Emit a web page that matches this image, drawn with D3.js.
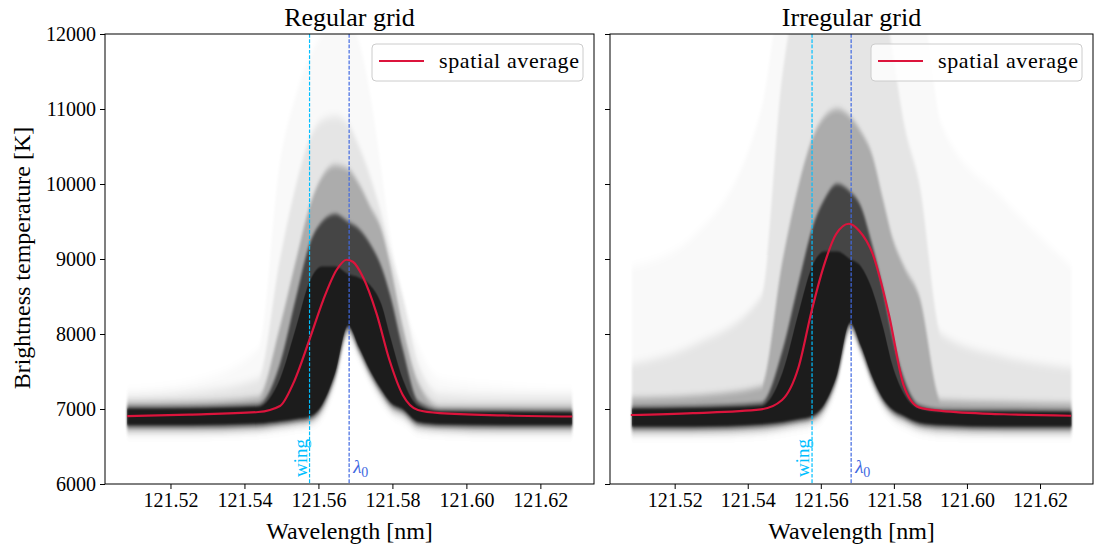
<!DOCTYPE html>
<html>
<head>
<meta charset="utf-8">
<script src="https://cdn.jsdelivr.net/npm/d3@7/dist/d3.min.js"></script>
<style>
  body { margin: 0; background: #fff; }
  svg text { font-family: "Liberation Serif", "Times New Roman", serif; fill: #000; }
</style>
</head>
<body>
<div id="chart"></div>
<script>
// wavelength nodes [nm] where the spread of all profiles was read
const bandWavelengths = [121.5083, 121.5250, 121.5437, 121.5496, 121.5540, 121.5576, 121.5610, 121.5645, 121.5680,
                         121.5710, 121.5740, 121.5770, 121.5795, 121.5828, 121.5870, 121.5930, 121.6100, 121.6286];

// regular grid: spread of the profiles [K] (faint envelope -> densest part)
const regEnvHi   = [7250, 7350, 7800, 10300, 11200, 11700, 12000, 12200, 12200, 11900, 11200, 10200, 9300, 8500, 7850, 7400, 7300, 7250];
const regEnvLo   = [6640, 6640, 6670, 6700, 6740, 6770, 6880, 7280, 7900, 7640, 7330, 7080, 6930, 6830, 6690, 6660, 6640, 6640];
const regOuterHi = [7170, 7220, 7400, 9000, 10000, 10600, 10850, 10900, 10800, 10500, 10100, 9600, 9100, 8500, 7600, 7200, 7170, 7170];
const regOuterLo = [6670, 6670, 6700, 6740, 6770, 6800, 6930, 7340, 7960, 7690, 7380, 7130, 6970, 6880, 6720, 6690, 6670, 6670];
const regMidHi   = [7090, 7100, 7160, 8100, 9000, 9700, 10100, 10250, 10200, 10000, 9700, 9400, 8900, 8100, 7350, 7040, 7040, 7040];
const regMidLo   = [6710, 6710, 6730, 6770, 6800, 6830, 6980, 7400, 8020, 7740, 7430, 7180, 7010, 6920, 6760, 6730, 6710, 6710];
const regCoreHi  = [7030, 7035, 7060, 7600, 8500, 9200, 9500, 9600, 9500, 9400, 9200, 8900, 8500, 7800, 7100, 6990, 6985, 6980];
const regCoreLo  = [6760, 6760, 6780, 6810, 6840, 6870, 7030, 7450, 8080, 7790, 7480, 7230, 7060, 6970, 6800, 6770, 6760, 6760];
const regDenseHi = [7000, 7005, 7030, 7400, 8100, 8700, 8900, 8900, 8800, 8750, 8650, 8400, 7950, 7400, 7040, 6965, 6960, 6955];
const regDenseLo = [6790, 6790, 6810, 6840, 6870, 6900, 7060, 7480, 8110, 7820, 7510, 7260, 7090, 7000, 6830, 6800, 6790, 6790];

// irregular grid: spread of the profiles [K]
const irrEnvHi   = [8900, 9300, 11000, 12500, 12500, 12500, 12500, 12500, 12500, 12500, 12500, 12500, 12500, 12500, 12500, 10800, 9800, 8900];
const irrEnvLo   = [6620, 6620, 6650, 6690, 6730, 6770, 6900, 7300, 7980, 7680, 7280, 6990, 6850, 6760, 6680, 6640, 6620, 6620];
const irrOuterHi = [7600, 7850, 8500, 11500, 12500, 12500, 12500, 12500, 12500, 12500, 12500, 12500, 11800, 10800, 10000, 8000, 7700, 7550];
const irrOuterLo = [6650, 6650, 6680, 6720, 6760, 6800, 6940, 7340, 8020, 7720, 7320, 7030, 6890, 6800, 6710, 6670, 6650, 6650];
const irrMidHi   = [7150, 7180, 7300, 9000, 10000, 10600, 10900, 11000, 10900, 10700, 10400, 9800, 9300, 8900, 8500, 7120, 7100, 7080];
const irrMidLo   = [6690, 6690, 6720, 6760, 6800, 6840, 6990, 7390, 8060, 7760, 7360, 7070, 6930, 6840, 6750, 6710, 6690, 6690];
const irrCoreHi  = [7030, 7040, 7080, 7800, 8700, 9400, 9800, 10000, 9900, 9700, 9200, 8600, 8000, 7400, 7050, 6995, 6990, 6985];
const irrCoreLo  = [6740, 6740, 6770, 6800, 6840, 6880, 7040, 7440, 8120, 7810, 7410, 7110, 6970, 6880, 6790, 6760, 6740, 6740];
const irrDenseHi = [7000, 7010, 7040, 7500, 8300, 8900, 9100, 9100, 9000, 8900, 8600, 8100, 7600, 7200, 7010, 6970, 6965, 6960];
const irrDenseLo = [6770, 6770, 6800, 6830, 6870, 6910, 7070, 7470, 8150, 7840, 7440, 7140, 7000, 6910, 6820, 6790, 6770, 6770];

// spatial average profiles
const regMeanWavelengths = [121.5083, 121.5250, 121.5437, 121.5496, 121.5532, 121.5577, 121.5613, 121.5649, 121.5676,
                            121.5693, 121.5720, 121.5757, 121.5792, 121.5828, 121.5869, 121.5928, 121.6100, 121.6286];
const regMean = [6905, 6925, 6960, 7040, 7342, 7943, 8453, 8853, 8990, 8964, 8764, 8276, 7653, 7187, 6987, 6945, 6915, 6900];

const irrMeanWavelengths = [121.5080, 121.5250, 121.5436, 121.5494, 121.5539, 121.5575, 121.5607, 121.5642, 121.5677,
                            121.5705, 121.5742, 121.5786, 121.5827, 121.5869, 121.5930, 121.6100, 121.6285];
const irrMean = [6920, 6945, 6995, 7120, 7556, 8311, 8889, 9333, 9470, 9377, 9067, 8267, 7311, 7022, 6975, 6930, 6910];

// marked wavelengths
const wingWavelength = 121.5576;
const lineCenter = 121.5683;

const xTicks = [121.52, 121.54, 121.56, 121.58, 121.60, 121.62];
const yTicks = [6000, 7000, 8000, 9000, 10000, 11000, 12000];

// how dark / how soft each spread level is drawn
const levelOpacity = [0.025, 0.08, 0.25, 0.6, 0.6];
const levelBlur = ['1 4', '1 4', '1 3', '0.8 2', '0.6 1.2'];

// layout
const W = 1094, H = 547;
const axTop = 34, axBottom = 484;
const panels = [
    {title: 'Regular grid', left: 105, right: 594, showY: true, mean: regMean, meanW: regMeanWavelengths,
     bands: [[regEnvLo, regEnvHi], [regOuterLo, regOuterHi], [regMidLo, regMidHi], [regCoreLo, regCoreHi], [regDenseLo, regDenseHi]]},
    {title: 'Irregular grid', left: 610, right: 1093, showY: false, mean: irrMean, meanW: irrMeanWavelengths,
     bands: [[irrEnvLo, irrEnvHi], [irrOuterLo, irrOuterHi], [irrMidLo, irrMidHi], [irrCoreLo, irrCoreHi], [irrDenseLo, irrDenseHi]]},
];

const svg = d3.select('#chart').append('svg')
    .attr('width', W)
    .attr('height', H);

// soft edges for the spread, the profiles thin out gradually
const defs = svg.append('defs');
levelBlur.forEach((b, i) => {
    defs.append('filter').attr('id', 'soft' + i)
        .attr('x', '-5%').attr('y', '-10%').attr('width', '110%').attr('height', '120%')
        .append('feGaussianBlur').attr('stdDeviation', b);
});

panels.forEach((p, pi) => {
    const x = d3.scaleLinear().domain([121.5023, 121.6345]).range([p.left, p.right]);
    const y = d3.scaleLinear().domain([6000, 12000]).range([axBottom, axTop]);

    const clipId = 'clip' + pi;
    defs.append('clipPath').attr('id', clipId)
        .append('rect')
        .attr('x', p.left).attr('y', axTop)
        .attr('width', p.right - p.left).attr('height', axBottom - axTop);

    const g = svg.append('g').attr('clip-path', `url(#${clipId})`);

    // spread of the profiles, drawn as stacked translucent bands
    p.bands.forEach(([lo, hi], li) => {
        const rows = bandWavelengths.map((w, i) => ({w: w, lo: lo[i], hi: hi[i]}));
        const area = d3.area()
            .x(d => x(d.w))
            .y0(d => y(d.lo))
            .y1(d => y(d.hi))
            .curve(d3.curveMonotoneX);
        g.append('path')
            .datum(rows)
            .attr('d', area)
            .attr('fill', '#000')
            .attr('fill-opacity', levelOpacity[li])
            .attr('filter', `url(#soft${li})`);
    });

    // vertical markers
    g.append('line')
        .attr('x1', x(wingWavelength)).attr('x2', x(wingWavelength))
        .attr('y1', axTop).attr('y2', axBottom)
        .attr('stroke', '#00bfff').attr('stroke-width', 1.2)
        .attr('stroke-dasharray', '3.7,1.6');
    g.append('line')
        .attr('x1', x(lineCenter)).attr('x2', x(lineCenter))
        .attr('y1', axTop).attr('y2', axBottom)
        .attr('stroke', '#4169e1').attr('stroke-width', 1.2)
        .attr('stroke-dasharray', '3.7,1.6');

    // spatial average
    const line = d3.line()
        .x(d => x(d.w))
        .y(d => y(d.t))
        .curve(d3.curveMonotoneX);
    g.append('path')
        .datum(p.meanW.map((w, i) => ({w: w, t: p.mean[i]})))
        .attr('d', line)
        .attr('fill', 'none')
        .attr('stroke', '#dc143c')
        .attr('stroke-width', 2.2);

    // marker labels
    svg.append('text')
        .attr('transform', `translate(${x(wingWavelength) - 3},477) rotate(-90)`)
        .style('fill', '#00bfff')
        .style('font-size', '19px')
        .text('wing');
    const lam = svg.append('text')
        .attr('x', x(lineCenter) + 4)
        .attr('y', 473)
        .style('fill', '#4169e1')
        .style('font-size', '19px');
    lam.append('tspan').style('font-style', 'italic').text('λ');
    lam.append('tspan').attr('dy', 4).style('font-size', '14px').text('0');

    // axes
    const xAxis = d3.axisBottom(x).tickValues(xTicks).tickFormat(d3.format('.2f')).tickSize(5).tickPadding(4);
    const gx = svg.append('g').attr('transform', `translate(0,${axBottom})`).call(xAxis);
    const yAxis = d3.axisLeft(y).tickValues(yTicks).tickSize(5).tickPadding(4)
        .tickFormat(p.showY ? d3.format('d') : () => '');
    const gy = svg.append('g').attr('transform', `translate(${p.left},0)`).call(yAxis);
    [gx, gy].forEach(a => {
        a.select('.domain').remove();
        a.selectAll('.tick line').attr('stroke', '#000').attr('stroke-width', 1);
        a.selectAll('.tick text').style('font-size', '20px').attr('font-family', null);
    });

    // frame
    svg.append('rect')
        .attr('x', p.left).attr('y', axTop)
        .attr('width', p.right - p.left).attr('height', axBottom - axTop)
        .attr('fill', 'none').attr('stroke', '#000').attr('stroke-width', 1);

    // title and x label
    const cx = (p.left + p.right) / 2;
    svg.append('text')
        .attr('x', cx).attr('y', 26)
        .attr('text-anchor', 'middle')
        .style('font-size', '26px')
        .text(p.title);
    svg.append('text')
        .attr('x', cx).attr('y', 539)
        .attr('text-anchor', 'middle')
        .style('font-size', '24px')
        .text('Wavelength [nm]');

    // legend
    const lg = svg.append('g').attr('transform', `translate(${p.right - 222},44)`);
    lg.append('rect')
        .attr('width', 211).attr('height', 37).attr('rx', 4)
        .attr('fill', '#fff').attr('fill-opacity', 0.8)
        .attr('stroke', '#ccc');
    lg.append('line')
        .attr('x1', 7).attr('x2', 52).attr('y1', 17).attr('y2', 17)
        .attr('stroke', '#dc143c').attr('stroke-width', 2.2);
    lg.append('text')
        .attr('x', 67).attr('y', 24)
        .attr('textLength', 140)
        .style('font-size', '22px')
        .text('spatial average');
});

svg.append('text')
    .attr('transform', 'translate(30,258) rotate(-90)')
    .attr('text-anchor', 'middle')
    .style('font-size', '24px')
    .text('Brightness temperature [K]');
</script>
</body>
</html>
